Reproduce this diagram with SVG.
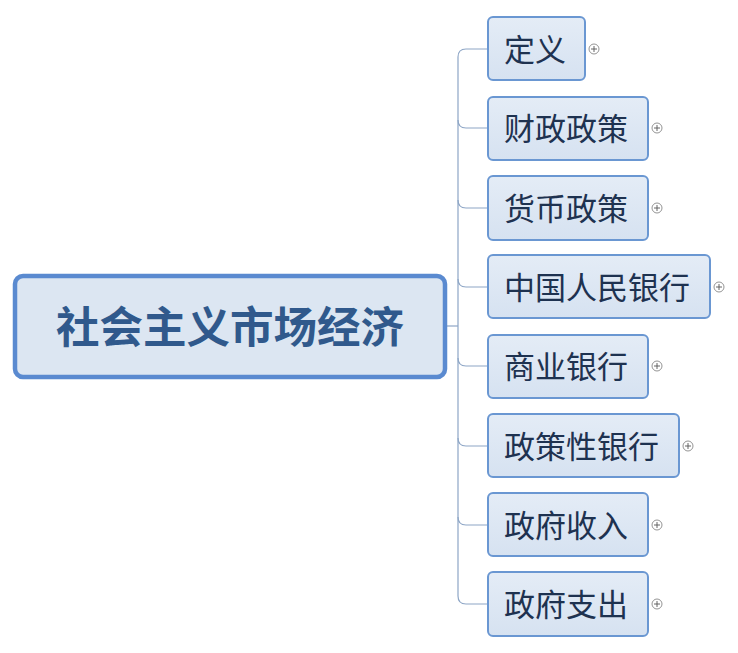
<svg xmlns="http://www.w3.org/2000/svg" width="738" height="653" viewBox="0 0 738 653">
<defs>
<linearGradient id="g" x1="0" y1="0" x2="0" y2="1"><stop offset="0" stop-color="#e4ecf6"/><stop offset="1" stop-color="#d6e2f1"/></linearGradient>
<style>
.box{fill:url(#g);stroke:#6a97d2;stroke-width:2}
.root{fill:#dce6f2;stroke:#5a8ad0;stroke-width:4.5}
.t{font-family:"Noto Sans CJK SC","Noto Sans",sans-serif;font-size:31px;fill:#1e3250}
.rt{font-family:"Noto Sans CJK SC","Noto Sans",sans-serif;font-size:43.5px;font-weight:bold;fill:#30598c}
.c{fill:none;stroke:#8ea6c6;stroke-width:1.2}
.pc{fill:#fff;stroke:#888;stroke-width:0.9}
.pl{stroke:#555;stroke-width:0.9}
</style>
</defs>
<rect width="738" height="653" fill="#fff"/>
<g id="connectors">
<path class="c" d="M445 326 H458"/>
<path class="c" d="M488 49 H466 Q458 49 458 57 V596 Q458 604 466 604 H488"/>
<path class="c" d="M458 120 Q458 128 466 128 H488"/>
<path class="c" d="M458 200 Q458 208 466 208 H488"/>
<path class="c" d="M458 279 Q458 287 466 287 H488"/>
<path class="c" d="M458 358 Q458 366 466 366 H488"/>
<path class="c" d="M458 438 Q458 446 466 446 H488"/>
<path class="c" d="M458 517 Q458 525 466 525 H488"/>
</g>
<g id="root">
<rect class="root" x="15" y="276" width="430" height="101" rx="8"/>
<text class="rt" x="230" y="343" text-anchor="middle">社会主义市场经济</text>
</g>
<g id="n1"><rect class="box" x="488" y="17" width="97" height="63" rx="5"/><text class="t" x="504" y="61">定义</text>
<circle class="pc" cx="594" cy="49" r="5"/><path class="pl" d="M591 49 H597 M594 46 V52"/></g>
<g id="n2"><rect class="box" x="488" y="97" width="160" height="63" rx="5"/><text class="t" x="504" y="140">财政政策</text>
<circle class="pc" cx="657" cy="128" r="5"/><path class="pl" d="M654 128 H660 M657 125 V131"/></g>
<g id="n3"><rect class="box" x="488" y="176" width="160" height="64" rx="5"/><text class="t" x="504" y="220">货币政策</text>
<circle class="pc" cx="657" cy="208" r="5"/><path class="pl" d="M654 208 H660 M657 205 V211"/></g>
<g id="n4"><rect class="box" x="488" y="255" width="222" height="63" rx="5"/><text class="t" x="504" y="299">中国人民银行</text>
<circle class="pc" cx="719" cy="287" r="5"/><path class="pl" d="M716 287 H722 M719 284 V290"/></g>
<g id="n5"><rect class="box" x="488" y="335" width="160" height="63" rx="5"/><text class="t" x="504" y="378">商业银行</text>
<circle class="pc" cx="657" cy="366" r="5"/><path class="pl" d="M654 366 H660 M657 363 V369"/></g>
<g id="n6"><rect class="box" x="488" y="414" width="191" height="63" rx="5"/><text class="t" x="504" y="458">政策性银行</text>
<circle class="pc" cx="688" cy="446" r="5"/><path class="pl" d="M685 446 H691 M688 443 V449"/></g>
<g id="n7"><rect class="box" x="488" y="493" width="160" height="63" rx="5"/><text class="t" x="504" y="537">政府收入</text>
<circle class="pc" cx="657" cy="525" r="5"/><path class="pl" d="M654 525 H660 M657 522 V528"/></g>
<g id="n8"><rect class="box" x="488" y="572" width="160" height="64" rx="5"/><text class="t" x="504" y="616">政府支出</text>
<circle class="pc" cx="657" cy="604" r="5"/><path class="pl" d="M654 604 H660 M657 601 V607"/></g>
</svg>
